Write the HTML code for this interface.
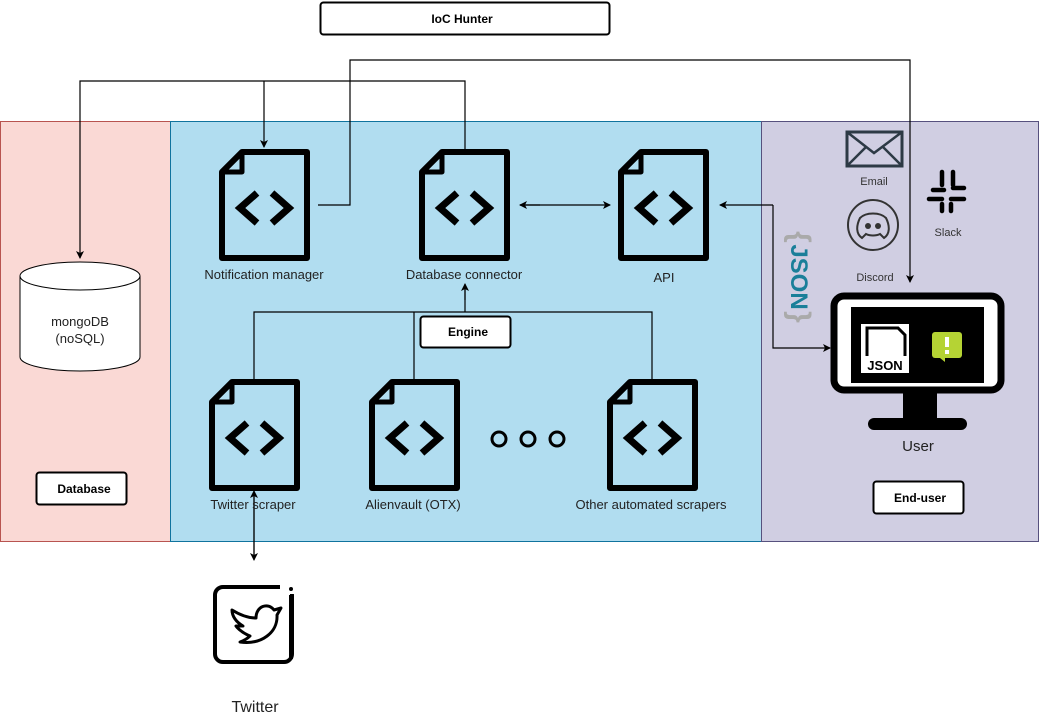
<!DOCTYPE html>
<html><head><meta charset="utf-8"><style>
html,body{margin:0;padding:0;background:#fff;}
svg text{font-family:"Liberation Sans",sans-serif;}
</style></head><body>
<svg width="1039" height="718" viewBox="0 0 1039 718" xmlns="http://www.w3.org/2000/svg">
<defs>
<marker id="a" markerWidth="8" markerHeight="8" refX="7" refY="4" orient="auto" markerUnits="userSpaceOnUse"><path d="M0,0 L8,4 L0,8 L2,4 Z" fill="#000"/></marker>
<g id="f">
<path d="M20,0 L85,0 L85,106 L0,106 L0,20 Z" fill="none" stroke="#000" stroke-width="6" stroke-linejoin="round"/>
<path d="M2,20 L20,20 L20,2" fill="none" stroke="#000" stroke-width="5" stroke-linejoin="round"/>
<path d="M35,41 L18,56 L35,71 M50,41 L67,56 L50,71" fill="none" stroke="#000" stroke-width="7"/>
</g>
</defs>
<rect x="0.5" y="121.5" width="170" height="420" fill="#fad9d5" stroke="#b85450"/>
<rect x="170.5" y="121.5" width="591" height="420" fill="#b1ddf0" stroke="#10739e"/>
<rect x="761.5" y="121.5" width="277" height="420" fill="#d0cee2" stroke="#56517e"/>
<rect x="320.5" y="2.5" width="289" height="32" rx="3" fill="#fff" stroke="#000" stroke-width="2"/>
<text x="462" y="23" font-size="12" font-weight="bold" text-anchor="middle">IoC Hunter</text>
<g fill="none" stroke="#000" stroke-width="1.2">
<path d="M318,205 H350 V60 H910 V282" marker-end="url(#a)"/>
<path d="M465,152 V81 H80 V258" marker-end="url(#a)"/>
<path d="M264,81 V147" marker-end="url(#a)"/>
<path d="M520,205 H610" marker-end="url(#a)"/>
<path d="M773,205 H720" marker-end="url(#a)"/>
<path d="M773,205 V348 H830" marker-end="url(#a)"/>
<path d="M254,382 V312 H652 V382 M414,312 V382 M465,312 V286" />
<path d="M465,300 V284" marker-end="url(#a)"/>
<path d="M254,492 V560" marker-end="url(#a)"/>
<path d="M254,556 V491" marker-end="url(#a)"/>
<path d="M540,205 H520" marker-end="url(#a)"/>
</g>
<use href="#f" x="222" y="152"/>
<use href="#f" x="422" y="152"/>
<use href="#f" x="621" y="152"/>
<use href="#f" x="212" y="382"/>
<use href="#f" x="372" y="382"/>
<use href="#f" x="610" y="382"/>
<g font-size="13" fill="#222" text-anchor="middle">
<text x="264" y="279">Notification manager</text>
<text x="464" y="279">Database connector</text>
<text x="664" y="282">API</text>
<text x="253" y="509">Twitter scraper</text>
<text x="413" y="509">Alienvault (OTX)</text>
<text x="651" y="509">Other automated scrapers</text>
</g>
<g fill="none" stroke="#000" stroke-width="3">
<circle cx="499" cy="439" r="7"/><circle cx="528" cy="439" r="7"/><circle cx="557" cy="439" r="7"/>
</g>
<rect x="420.5" y="316.5" width="90" height="31" rx="3" fill="#fff" stroke="#000" stroke-width="2"/>
<text x="468" y="336" font-size="12" font-weight="bold" text-anchor="middle">Engine</text>
<rect x="36.5" y="472.5" width="90" height="32" rx="3" fill="#fff" stroke="#000" stroke-width="2"/>
<text x="84" y="493" font-size="12" font-weight="bold" text-anchor="middle">Database</text>
<rect x="873.5" y="481.5" width="90" height="32" rx="3" fill="#fff" stroke="#000" stroke-width="2"/>
<text x="920" y="502" font-size="12" font-weight="bold" text-anchor="middle">End-user</text>
<path d="M20,276 V357 A60,14 0 0 0 140,357 V276" fill="#fff" stroke="#000"/>
<ellipse cx="80" cy="276" rx="60" ry="14" fill="#fff" stroke="#000"/>
<text x="80" y="326" font-size="13" fill="#222" text-anchor="middle">mongoDB</text>
<text x="80" y="343" font-size="13" fill="#222" text-anchor="middle">(noSQL)</text>
<rect x="215" y="587" width="77" height="75" rx="8" fill="none" stroke="#000" stroke-width="4"/>
<rect x="280" y="580" width="20" height="14" fill="#fff"/>
<circle cx="291" cy="589" r="2" fill="#000"/>
<rect x="289" y="595" width="4" height="64" fill="#000"/>
<path d="M232,610 C240,615 248,618 256,618 C256,606 268,602 274,610 L281,608 L277,615 C278,632 262,645 240,642 C246,640 250,636 250,636 C240,632 236,626 236,626 L243,626 C236,622 232,616 232,610 Z" fill="none" stroke="#000" stroke-width="3" stroke-linejoin="round"/>
<text x="255" y="712" font-size="16" fill="#222" text-anchor="middle">Twitter</text>
<rect x="847" y="132" width="55" height="34" fill="none" stroke="#2d3a45" stroke-width="3"/>
<path d="M847,132 L874,153 L902,132 M847,166 L866,147 M902,166 L883,147" fill="none" stroke="#2d3a45" stroke-width="2.5"/>
<text x="874" y="185" font-size="11" fill="#333" text-anchor="middle">Email</text>
<g stroke="#000" stroke-width="4.5" stroke-linecap="round" fill="none">
<path d="M942,172 V185 M953,172 V185 M933,190 H944 M953,188 H964 M929,199 H942 M951,199 H964 M942,204 V211 M951,204 V211"/>
</g>
<text x="948" y="236" font-size="11" fill="#333" text-anchor="middle">Slack</text>
<circle cx="873" cy="225" r="25" fill="none" stroke="#333" stroke-width="2"/>
<path d="M860,218 C866,212 880,212 886,218 C890,226 890,234 884,238 L880,234 C876,236 870,236 866,234 L862,238 C856,234 856,226 860,218 Z" fill="none" stroke="#333" stroke-width="2"/>
<circle cx="868" cy="226" r="3" fill="#333"/><circle cx="878" cy="226" r="3" fill="#333"/>
<text x="875" y="281" font-size="11" fill="#333" text-anchor="middle">Discord</text>
<g transform="translate(800,277) rotate(90)">
<text x="0" y="9" font-size="24" font-weight="bold" fill="#1a7f99" text-anchor="middle">JSON</text>
<text x="-40" y="10" font-size="30" font-weight="bold" fill="#aaa" text-anchor="middle">{</text>
<text x="40" y="10" font-size="30" font-weight="bold" fill="#aaa" text-anchor="middle">}</text>
</g>
<rect x="834" y="296" width="167" height="94" rx="10" fill="#fff" stroke="#000" stroke-width="7"/>
<rect x="851" y="307" width="133" height="76" fill="#000"/>
<rect x="903" y="393" width="34" height="28" fill="#000"/>
<rect x="868" y="418" width="99" height="12" rx="6" fill="#000"/>
<rect x="861" y="324" width="48" height="49" fill="#fff"/>
<path d="M867,356 V328 H898 L905,335 V356" fill="none" stroke="#000" stroke-width="3"/>
<text x="885" y="370" font-size="13" font-weight="bold" text-anchor="middle">JSON</text>
<rect x="932" y="332" width="30" height="26" rx="3" fill="#b5d334"/>
<path d="M940,358 L945,362 L945,358 Z" fill="#b5d334"/>
<rect x="945" y="337" width="4" height="10" fill="#fff"/><rect x="945" y="350" width="4" height="4" fill="#fff"/>
<text x="918" y="451" font-size="15" fill="#222" text-anchor="middle">User</text>
</svg>
</body></html>
